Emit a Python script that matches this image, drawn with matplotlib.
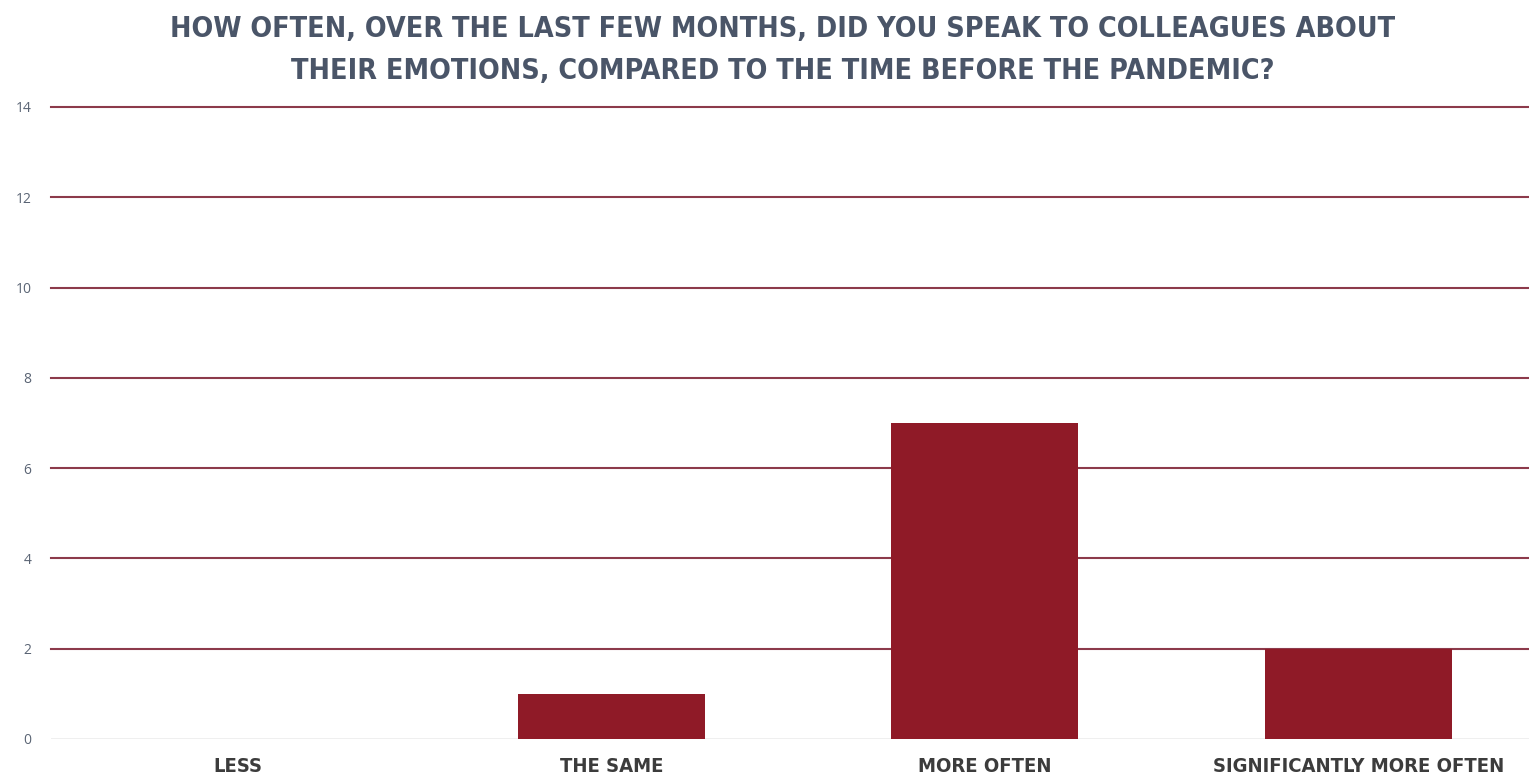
import matplotlib
matplotlib.use("Agg")
from matplotlib import pyplot as plt

categories = ["LESS", "THE SAME", "MORE OFTEN", "SIGNIFICANTLY MORE OFTEN"]
counts = [0, 1, 7, 2]
y_ticks = [0, 2, 4, 6, 8, 10, 12, 14]

title = ("HOW OFTEN, OVER THE LAST FEW MONTHS, DID YOU SPEAK TO COLLEAGUES ABOUT\n"
         "THEIR EMOTIONS, COMPARED TO THE TIME BEFORE THE PANDEMIC?")

bar_color = "#8f1a27"
grid_color = "#8c3a4b"

fig = plt.figure(figsize=(15.29, 7.78), dpi=100)
ax = fig.add_axes([51 / 1529, 39 / 778, 1494 / 1529, 632 / 778])

x = list(range(len(categories)))
ax.bar(x, counts, width=0.5, color=bar_color, zorder=3)

ax.set_xlim(-0.5, len(categories) - 0.5)
ax.set_ylim(0, 14)
ax.set_yticks(y_ticks)
ax.set_yticklabels([str(t) for t in y_ticks], color="#5a6474", fontsize=10,
                   family=["Open Sans", "DejaVu Sans"])

for t in y_ticks[1:]:
    ax.axhline(t, color=grid_color, lw=1.5, zorder=1, clip_on=False)
ax.axhline(0, color="#ececec", lw=1.2, zorder=1)

ax.set_xticks(x)
ax.set_xticklabels(categories, fontsize=14.5, fontweight="bold", color="#3c3c3c",
                   family="DejaVu Sans", fontstretch="condensed")
ax.tick_params(axis="both", length=0)
ax.tick_params(axis="y", pad=14)
ax.tick_params(axis="x", pad=13)

for s in ax.spines.values():
    s.set_visible(False)

fig.text(783 / 1529, 1 - 50 / 778, title, ha="center", va="center",
         fontsize=20.5, fontweight="bold", color="#4a5568", linespacing=1.6,
         family="DejaVu Sans", fontstretch="condensed")

fig.savefig("out.png", dpi=100)
